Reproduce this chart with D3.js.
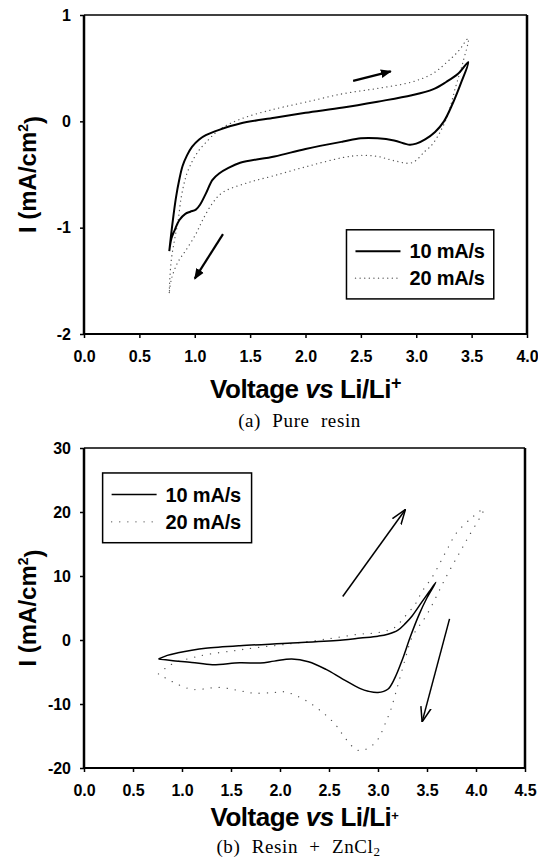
<!DOCTYPE html>
<html>
<head>
<meta charset="utf-8">
<script src="https://cdn.jsdelivr.net/npm/d3@7"></script>
<style>
  html, body { margin: 0; padding: 0; background: #fff; }
  svg { display: block; }
  text { font-family: "Liberation Sans", Arial, Helvetica, sans-serif; }
</style>
</head>
<body>
<svg id="chart" width="538" height="861"></svg>
<script>
// ---------------- DATA ----------------
// (a) Pure resin
const xTicksA = [0.0, 0.5, 1.0, 1.5, 2.0, 2.5, 3.0, 3.5, 4.0];
const yTicksA = [-2, -1, 0, 1];
const voltageA10 = [0.77,0.80,0.83,0.86,0.89,0.93,0.975,1.04,1.10,1.22,1.41,1.72,2.00,2.34,2.65,2.96,3.15,3.27,3.38,3.47,
                    3.40,3.33,3.25,3.17,3.08,3.00,2.94,2.80,2.65,2.50,2.34,2.00,1.72,1.41,1.30,1.22,1.16,1.10,1.05,1.01,0.96,0.915,0.86,0.82,0.79,0.77];
const currentA10 = [-1.22,-0.95,-0.72,-0.55,-0.42,-0.32,-0.24,-0.17,-0.13,-0.08,-0.02,0.034,0.08,0.13,0.185,0.245,0.30,0.37,0.45,0.557,
                    0.35,0.17,0.00,-0.10,-0.17,-0.21,-0.22,-0.18,-0.16,-0.16,-0.19,-0.26,-0.33,-0.39,-0.44,-0.49,-0.55,-0.68,-0.78,-0.83,-0.85,-0.87,-0.93,-1.02,-1.10,-1.22];
const voltageA20 = [0.77,0.775,0.79,0.82,0.85,0.88,0.92,0.975,1.04,1.10,1.22,1.41,1.72,2.00,2.34,2.65,2.96,3.15,3.27,3.38,3.47,
                    3.42,3.36,3.27,3.15,3.08,2.96,2.80,2.65,2.50,2.34,2.03,1.72,1.47,1.25,1.16,1.07,1.01,0.915,0.85,0.79,0.77];
const currentA20 = [-1.61,-1.48,-1.29,-1.10,-0.93,-0.70,-0.52,-0.38,-0.27,-0.20,-0.08,0.02,0.115,0.18,0.26,0.31,0.37,0.45,0.55,0.66,0.78,
                    0.55,0.34,0.02,-0.21,-0.28,-0.39,-0.37,-0.33,-0.32,-0.34,-0.42,-0.51,-0.58,-0.67,-0.77,-0.93,-1.06,-1.22,-1.32,-1.48,-1.61];
const arrowsA = [[2.43, 0.38, 2.77, 0.47], [1.255, -1.06, 1.0, -1.48]];

// (b) Resin + ZnCl2
const xTicksB = [0.0, 0.5, 1.0, 1.5, 2.0, 2.5, 3.0, 3.5, 4.0, 4.5];
const yTicksB = [-20, -10, 0, 10, 20, 30];
const voltageB10 = [0.76,0.85,0.96,1.10,1.24,1.59,2.12,2.64,2.82,3.00,3.10,3.20,3.28,3.35,3.45,3.52,3.59,
                    3.50,3.42,3.33,3.25,3.17,3.10,3.00,2.90,2.82,2.64,2.47,2.29,2.12,1.94,1.80,1.59,1.31,1.10,0.89,0.76];
const currentB10 = [-2.97,-2.4,-2.0,-1.6,-1.3,-0.9,-0.47,0.0,0.3,0.6,0.9,1.5,2.6,3.8,6.0,7.5,9.0,
                    6.6,4.0,0.5,-3.0,-6.0,-7.7,-8.2,-8.0,-7.6,-6.1,-4.6,-3.4,-2.97,-3.3,-3.6,-3.55,-3.85,-3.5,-3.2,-2.97];
const voltageB20 = [0.76,0.85,0.95,1.10,1.24,1.52,1.73,2.10,2.50,2.80,3.00,3.17,3.27,3.38,3.45,3.55,3.70,3.80,3.98,4.08,
                    3.90,3.70,3.50,3.35,3.27,3.20,3.13,3.08,3.00,2.92,2.82,2.75,2.65,2.57,2.45,2.29,2.15,2.05,1.94,1.73,1.55,1.38,1.10,0.90,0.76];
const currentB20 = [-5.3,-4.2,-3.4,-2.8,-2.3,-1.7,-1.25,-0.6,0.2,0.9,1.15,1.95,3.6,5.6,7.6,9.75,14.0,16.7,19.4,20.5,
                    15.5,10.0,4.0,0.5,-3.4,-7.2,-10.9,-12.8,-15.5,-16.7,-17.3,-16.8,-15.0,-13.3,-11.5,-9.7,-8.6,-8.1,-8.2,-8.3,-7.8,-7.4,-7.7,-6.5,-5.3];
const arrowsB = [[2.64, 6.8, 3.28, 20.4], [3.73, 3.3, 3.45, -12.8]];

const seriesNames = ["10 mA/s", "20 mA/s"];

// ---------------- DRAW ----------------
const svg = d3.select("#chart");
const defs = svg.append("defs");
defs.append("marker").attr("id", "headFilled")
  .attr("viewBox", "0 0 10 10").attr("refX", 9).attr("refY", 5)
  .attr("markerWidth", 5).attr("markerHeight", 5).attr("markerUnits", "strokeWidth")
  .attr("orient", "auto")
  .append("path").attr("d", "M0,1 L10,5 L0,9 Z").attr("fill", "#000");
defs.append("marker").attr("id", "headOpen")
  .attr("viewBox", "0 0 10 10").attr("refX", 10).attr("refY", 5)
  .attr("markerWidth", 10).attr("markerHeight", 10).attr("markerUnits", "strokeWidth")
  .attr("orient", "auto")
  .append("path").attr("d", "M0,1.5 L10,5 L0,8.5").attr("fill", "none").attr("stroke", "#000").attr("stroke-width", 1);

const hyphenFmt = f => d => f(d).replace("\u2212", "-");

function panel(cfg) {
  const x = d3.scaleLinear().domain(cfg.xDomain).range([cfg.left, cfg.right]);
  const y = d3.scaleLinear().domain(cfg.yDomain).range([cfg.bottom, cfg.top]);
  const g = svg.append("g");

  // axes
  const ax = g.append("g").attr("transform", `translate(0,${cfg.bottom})`)
    .call(d3.axisBottom(x).tickValues(cfg.xTicks).tickFormat(d3.format(".1f")).tickSize(4).tickSizeOuter(0).tickPadding(13));
  const ay = g.append("g").attr("transform", `translate(${cfg.left},0)`)
    .call(d3.axisLeft(y).tickValues(cfg.yTicks).tickFormat(hyphenFmt(d3.format("d"))).tickSize(4).tickSizeOuter(0).tickPadding(9));
  [ax, ay].forEach(a => {
    a.select(".domain").remove();
    a.selectAll(".tick line").attr("stroke", "#000").attr("stroke-width", 1.5);
    a.selectAll(".tick text").attr("fill", "#000").style("font-size", "16px").style("font-weight", "bold")
      .style("font-family", '"Liberation Sans", Arial, sans-serif');
  });

  // frame
  const frame = g.append("g").attr("stroke", "#000").attr("fill", "none");
  frame.append("line").attr("x1", cfg.left).attr("x2", cfg.right).attr("y1", cfg.top).attr("y2", cfg.top).attr("stroke-width", 1.5);
  frame.append("line").attr("x1", cfg.right).attr("x2", cfg.right).attr("y1", cfg.top).attr("y2", cfg.bottom).attr("stroke-width", 2.5);
  frame.append("line").attr("x1", cfg.left).attr("x2", cfg.right).attr("y1", cfg.bottom).attr("y2", cfg.bottom).attr("stroke-width", 2);
  frame.append("line").attr("x1", cfg.left).attr("x2", cfg.left).attr("y1", cfg.top).attr("y2", cfg.bottom).attr("stroke-width", 2.5);

  const line = d3.line().x(d => x(d[0])).y(d => y(d[1])).curve(d3.curveCatmullRom.alpha(0.5));

  // dotted series (20 mA/s)
  g.append("path").datum(d3.zip(cfg.v20, cfg.c20))
    .attr("d", line).attr("fill", "none").attr("stroke", "#555")
    .attr("stroke-width", cfg.dotWidth).attr("stroke-linecap", "round").attr("stroke-dasharray", cfg.dotDash);
  // solid series (10 mA/s)
  g.append("path").datum(d3.zip(cfg.v10, cfg.c10))
    .attr("d", line).attr("fill", "none").attr("stroke", "#000")
    .attr("stroke-width", cfg.solidWidth).attr("stroke-linejoin", "round");

  // arrows
  cfg.arrows.forEach(a => {
    g.append("line").attr("x1", x(a[0])).attr("y1", y(a[1])).attr("x2", x(a[2])).attr("y2", y(a[3]))
      .attr("stroke", "#000").attr("stroke-width", cfg.arrowWidth).attr("marker-end", `url(#${cfg.arrowHead})`);
  });

  // legend
  const L = cfg.legend;
  const lx0 = x(L.x0), lx1 = x(L.x1), ly0 = y(L.y0), ly1 = y(L.y1);
  g.append("rect").attr("x", lx0).attr("y", ly0).attr("width", lx1 - lx0).attr("height", ly1 - ly0)
    .attr("fill", "#fff").attr("stroke", "#000").attr("stroke-width", 1.5);
  const rows = [ly0 + (ly1 - ly0) * 0.31, ly0 + (ly1 - ly0) * 0.70];
  g.append("line").attr("x1", lx0 + 9).attr("x2", lx0 + 54).attr("y1", rows[0]).attr("y2", rows[0])
    .attr("stroke", "#000").attr("stroke-width", cfg.solidWidth);
  g.append("line").attr("x1", lx0 + 9).attr("x2", lx0 + 54).attr("y1", rows[1]).attr("y2", rows[1])
    .attr("stroke", "#555").attr("stroke-width", cfg.dotWidth).attr("stroke-linecap", "round").attr("stroke-dasharray", cfg.dotDash);
  seriesNames.forEach((s, i) => {
    g.append("text").attr("x", lx0 + 63).attr("y", rows[i] + 7).text(s)
      .style("font-size", "20px").style("font-weight", "bold").style("letter-spacing", "-0.2px");
  });

  // y title
  const cy = (cfg.top + cfg.bottom) / 2;
  const yt = g.append("text").attr("transform", `translate(36,${cy}) rotate(-90)`)
    .attr("text-anchor", "middle").style("font-size", "24px").style("font-weight", "bold");
  yt.append("tspan").text("I (mA/cm");
  yt.append("tspan").attr("dy", "-0.55em").style("font-size", "14px").text("2");
  yt.append("tspan").attr("dy", "0.55em").text(")");

  // x title
  const cx = (cfg.left + cfg.right) / 2;
  const xt = g.append("text").attr("x", cx).attr("y", cfg.titleY).attr("text-anchor", "middle")
    .style("font-size", "26px").style("font-weight", "bold").style("letter-spacing", "-0.5px");
  xt.append("tspan").text("Voltage ");
  xt.append("tspan").style("font-style", "italic").text("vs");
  xt.append("tspan").text(" Li/Li");
  xt.append("tspan").attr("dy", "-0.5em").style("font-size", cfg.plusSize).text("+");

  // caption
  const cap = g.append("text").attr("x", cx - 6).attr("y", cfg.captionY).attr("text-anchor", "middle")
    .style("font-family", '"Liberation Serif", "DejaVu Serif", serif').style("font-size", "19px")
    .style("letter-spacing", "0.6px").style("word-spacing", cfg.wordSpacing);
  cfg.caption(cap);
}

panel({
  left: 84, right: 527, top: 15, bottom: 334,
  xDomain: [0, 4], yDomain: [-2, 1], xTicks: xTicksA, yTicks: yTicksA,
  v10: voltageA10, c10: currentA10, v20: voltageA20, c20: currentA20,
  solidWidth: 2, dotWidth: 1.3, dotDash: "0.1 4.5",
  arrows: arrowsA, arrowHead: "headFilled", arrowWidth: 2.2,
  legend: { x0: 2.37, x1: 3.70, y0: -1.02, y1: -1.67 },
  titleY: 398, captionY: 427, plusSize: "18px", wordSpacing: "6px",
  caption: t => { t.text("(a) Pure resin"); }
});

panel({
  left: 84, right: 525, top: 448, bottom: 768,
  xDomain: [0, 4.5], yDomain: [-20, 30], xTicks: xTicksB, yTicks: yTicksB,
  v10: voltageB10, c10: currentB10, v20: voltageB20, c20: currentB20,
  solidWidth: 1.5, dotWidth: 1.3, dotDash: "0.1 8",
  arrows: arrowsB, arrowHead: "headOpen", arrowWidth: 1.5,
  legend: { x0: 0.19, x1: 1.71, y0: 26.1, y1: 15.2 },
  titleY: 826, captionY: 853, plusSize: "13px", wordSpacing: "6px",
  caption: t => {
    t.append("tspan").text("(b) Resin + ZnCl");
    t.append("tspan").attr("dy", "0.25em").style("font-size", "13px").text("2");
  }
});
</script>
</body>
</html>
